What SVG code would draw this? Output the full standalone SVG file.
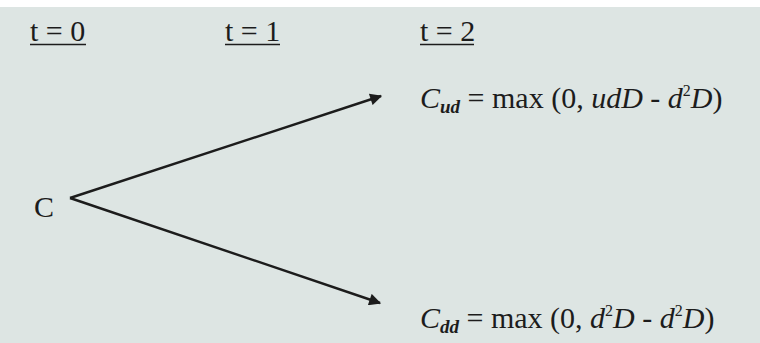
<svg xmlns="http://www.w3.org/2000/svg" width="760" height="343" viewBox="0 0 760 343">
<style>
.t{font-family:"Liberation Serif","Times New Roman",serif;font-size:30px;fill:#1c1c1c}
.i{font-style:italic}
.sub{font-style:italic;font-weight:bold;font-size:19px}
.sup{font-size:16px}
.ln{stroke:#1c1c1c;stroke-width:2.4;fill:none}
</style>
<defs>
<marker id="ah" viewBox="0 0 10 10" refX="9" refY="5" markerWidth="5.5" markerHeight="5" orient="auto" markerUnits="strokeWidth">
<path d="M0,0 L10,5 L0,10 z" fill="#1c1c1c"/>
</marker>
</defs>
<rect x="0" y="0" width="760" height="343" fill="#dde5e3"/>
<rect x="0" y="0" width="760" height="7" fill="#ffffff"/>
<g id="headers">
<text class="t" x="30" y="41">t = 0</text>
<line x1="30" y1="44.5" x2="86" y2="44.5" stroke="#1c1c1c" stroke-width="1.6"/>
<text class="t" x="225" y="41">t = 1</text>
<line x1="225" y1="44.5" x2="280" y2="44.5" stroke="#1c1c1c" stroke-width="1.6"/>
<text class="t" x="420" y="41">t = 2</text>
<line x1="420" y1="44.5" x2="474" y2="44.5" stroke="#1c1c1c" stroke-width="1.6"/>
</g>
<g id="node-C">
<text class="t" x="34" y="217">C</text>
</g>
<g id="node-Cud">
<text class="t" x="420" y="108"><tspan class="i">C</tspan><tspan class="sub" dy="5">ud</tspan><tspan dy="-5"> = max (0, </tspan><tspan class="i">udD</tspan> - <tspan class="i">d</tspan><tspan class="sup" dy="-12">2</tspan><tspan class="i" dy="12">D</tspan>)</text>
</g>
<g id="node-Cdd">
<text class="t" x="420" y="328"><tspan class="i">C</tspan><tspan class="sub" dy="5">dd</tspan><tspan dy="-5"> = max (0, </tspan><tspan class="i">d</tspan><tspan class="sup" dy="-12">2</tspan><tspan class="i" dy="12">D</tspan> - <tspan class="i">d</tspan><tspan class="sup" dy="-12">2</tspan><tspan class="i" dy="12">D</tspan>)</text>
</g>
<g id="connectors">
<line class="ln" x1="70" y1="198" x2="381" y2="96" marker-end="url(#ah)"/>
<line class="ln" x1="70" y1="198" x2="380" y2="303" marker-end="url(#ah)"/>
</g>
</svg>
